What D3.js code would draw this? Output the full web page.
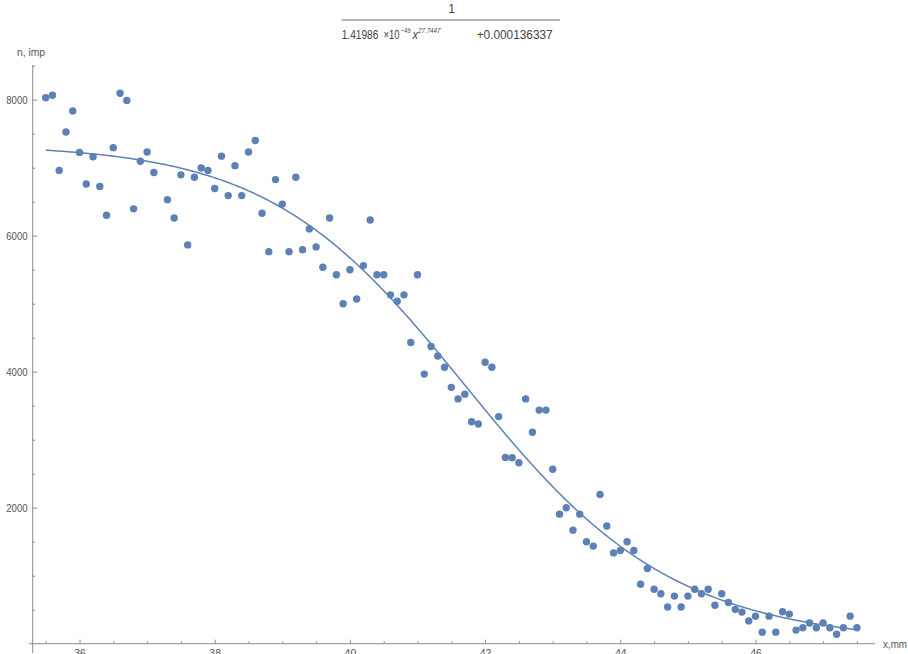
<!DOCTYPE html>
<html><head><meta charset="utf-8">
<script src="https://cdn.jsdelivr.net/npm/d3@7"></script>
<style>
body{margin:0;background:#fff;}
svg{display:block;font-family:"Liberation Sans",Arial,sans-serif;}
</style></head>
<body><svg id="c" width="908" height="654"></svg>
<script>
const xValues = [35.5,35.6,35.7,35.8,35.9,36.0,36.1,36.2,36.3,36.4,36.5,36.6,36.7,36.8,36.9,37.0,37.1,
 37.3,37.4,37.5,37.6,37.7,37.8,37.9,38.0,38.1,38.2,38.3,38.4,38.5,38.6,38.7,38.8,38.9,39.0,39.1,39.2,39.3,39.4,
 39.5,39.6,39.7,39.8,39.9,40.0,40.1,40.2,40.3,40.4,40.5,40.6,40.7,40.8,40.9,41.0,41.1,41.2,41.3,41.4,41.5,41.6,
 41.7,41.8,41.9,42.0,42.1,42.2,42.3,42.4,42.5,42.6,42.7,42.8,42.9,43.0,43.1,43.2,43.3,43.4,43.5,43.6,43.7,43.8,
 43.9,44.0,44.1,44.2,44.3,44.4,44.5,44.6,44.7,44.8,44.9,45.0,45.1,45.2,45.3,45.4,45.5,45.6,45.7,45.8,45.9,46.0,
 46.1,46.2,46.3,46.4,46.5,46.6,46.7,46.8,46.9,47.0,47.1,47.2,47.3,47.4,47.5];
const nValues = [8030,8065,6960,7525,7835,7225,6760,7160,6725,6300,7295,8095,7990,6395,7095,7230,6930,
 6530,6260,6895,5865,6860,6995,6960,6695,7170,6590,7030,6590,7230,7400,6330,5765,6825,6465,5765,6860,5795,6100,
 5835,5535,6260,5425,5000,5500,5070,5560,6230,5425,5425,5130,5035,5130,4430,5425,3965,4370,4230,4065,3770,3600,
 3670,3265,3230,4140,4065,3340,2740,2735,2660,3600,3110,3435,3435,2565,1905,2000,1670,1905,1500,1435,2195,1730,
 1335,1370,1500,1370,875,1105,800,735,540,700,540,700,800,735,800,565,735,605,505,465,335,405,
 170,405,170,470,435,200,235,305,235,305,235,140,235,405,235];
// fit shown in the title: 1/(fitA * x^fitB + fitC)
const fitA = 1.41986e-49, fitB = 27.7447, fitC = 0.000136337;
const fitRange = [35.5, 47.5];
const xMajorTicks = [36,38,40,42,44,46];
const xMinorTicks = [35.5,36.5,37,37.5,38.5,39,39.5,40.5,41,41.5,42.5,43,43.5,44.5,45,45.5,46.5,47,47.5];
const yMajorTicks = [2000,4000,6000,8000];
const yMinorTicks = [500,1000,1500,2500,3000,3500,4500,5000,5500,6500,7000,7500,8500];

const col = "#5E81B5", axisCol = "#8a8a8a", txtCol = "#555";
const FONT = '"Liberation Sans",Arial,sans-serif';
const svg = d3.select("#c");
const x = d3.scaleLinear().domain([35.25,47.75]).range([28.8,873.8]);
const y = d3.scaleLinear().domain([0,8500]).range([643.7,65.7]);
const yAxisX = 32.7, xAxisY = y(0);

// x axis
svg.append("line").attr("x1",29).attr("x2",875).attr("y1",xAxisY).attr("y2",xAxisY)
  .attr("stroke",axisCol).attr("stroke-width",1);
const gx = svg.append("g").attr("transform",`translate(0,${xAxisY})`);
gx.call(d3.axisBottom(x).tickValues(xMajorTicks).tickSizeInner(-4).tickSizeOuter(0).tickPadding(6).tickFormat(d3.format("d")));
const gx2 = svg.append("g").attr("transform",`translate(0,${xAxisY})`);
gx2.call(d3.axisBottom(x).tickValues(xMinorTicks).tickSizeInner(-2.4).tickSizeOuter(0).tickFormat(""));
[gx,gx2].forEach(g=>{g.select(".domain").remove();g.selectAll("line").attr("stroke",axisCol);
  g.selectAll("text").attr("fill",txtCol).attr("font-size",10.5).attr("font-family",FONT);});

// y axis
svg.append("line").attr("x1",yAxisX).attr("x2",yAxisX).attr("y1",65).attr("y2",653)
  .attr("stroke",axisCol).attr("stroke-width",1);
const gy = svg.append("g").attr("transform",`translate(${yAxisX},0)`);
gy.call(d3.axisLeft(y).tickValues(yMajorTicks).tickSizeInner(-4).tickSizeOuter(0).tickPadding(5).tickFormat(d3.format("d")));
const gy2 = svg.append("g").attr("transform",`translate(${yAxisX},0)`);
gy2.call(d3.axisLeft(y).tickValues(yMinorTicks).tickSizeInner(-2.4).tickSizeOuter(0).tickFormat(""));
[gy,gy2].forEach(g=>{g.select(".domain").remove();g.selectAll("line").attr("stroke",axisCol);
  g.selectAll("text").attr("fill",txtCol).attr("font-size",10.5).attr("font-family",FONT)
    .attr("textLength",21.5).attr("lengthAdjust","spacingAndGlyphs");});

// axis labels
svg.append("text").attr("x",17).attr("y",55.5).attr("fill",txtCol).attr("font-size",10.5)
  .attr("textLength",28).attr("lengthAdjust","spacingAndGlyphs").text("n, imp");
svg.append("text").attr("x",883).attr("y",xAxisY+4).attr("fill",txtCol).attr("font-size",10.5)
  .attr("textLength",24).attr("lengthAdjust","spacingAndGlyphs").text("x,mm");

// fit curve
const curvePts = d3.range(fitRange[0], fitRange[1]+1e-9, 0.02).map(v=>[v, 1/(fitA*Math.pow(v,fitB)+fitC)]);
svg.append("path").datum(curvePts)
  .attr("d", d3.line().x(d=>x(d[0])).y(d=>y(d[1])))
  .attr("fill","none").attr("stroke",col).attr("stroke-width",1.5);

// points
svg.append("g").selectAll("circle").data(xValues.map((v,i)=>[v,nValues[i]])).join("circle")
  .attr("cx",d=>x(d[0])).attr("cy",d=>y(d[1])).attr("r",3.7).attr("fill",col);

// title formula
const t = svg.append("g").attr("fill","#444").attr("font-size",12);
const piece = (txt,px,py,len,opts={}) => {
  const e = t.append("text").attr("x",px).attr("y",py).attr("textLength",len)
    .attr("lengthAdjust","spacingAndGlyphs").text(txt);
  if (opts.size) e.attr("font-size",opts.size);
  if (opts.italic) e.attr("font-style","italic");
  return e;
};
t.append("text").attr("x",451.5).attr("y",12.5).attr("text-anchor","middle").text("1");
svg.append("line").attr("x1",341.7).attr("x2",560).attr("y1",20).attr("y2",20).attr("stroke","#666").attr("stroke-width",1);
piece("1.41986",341.7,39.3,36.7);
piece("×10",383.5,39.3,16);
piece("−49",401,32.5,9.5,{size:8});
piece("x",412.5,39.3,5.5,{italic:true});
piece("27.7447",418,32.5,22.5,{size:8,italic:true});
piece("+0.000136337",476.7,39.3,76);
</script></body></html>
